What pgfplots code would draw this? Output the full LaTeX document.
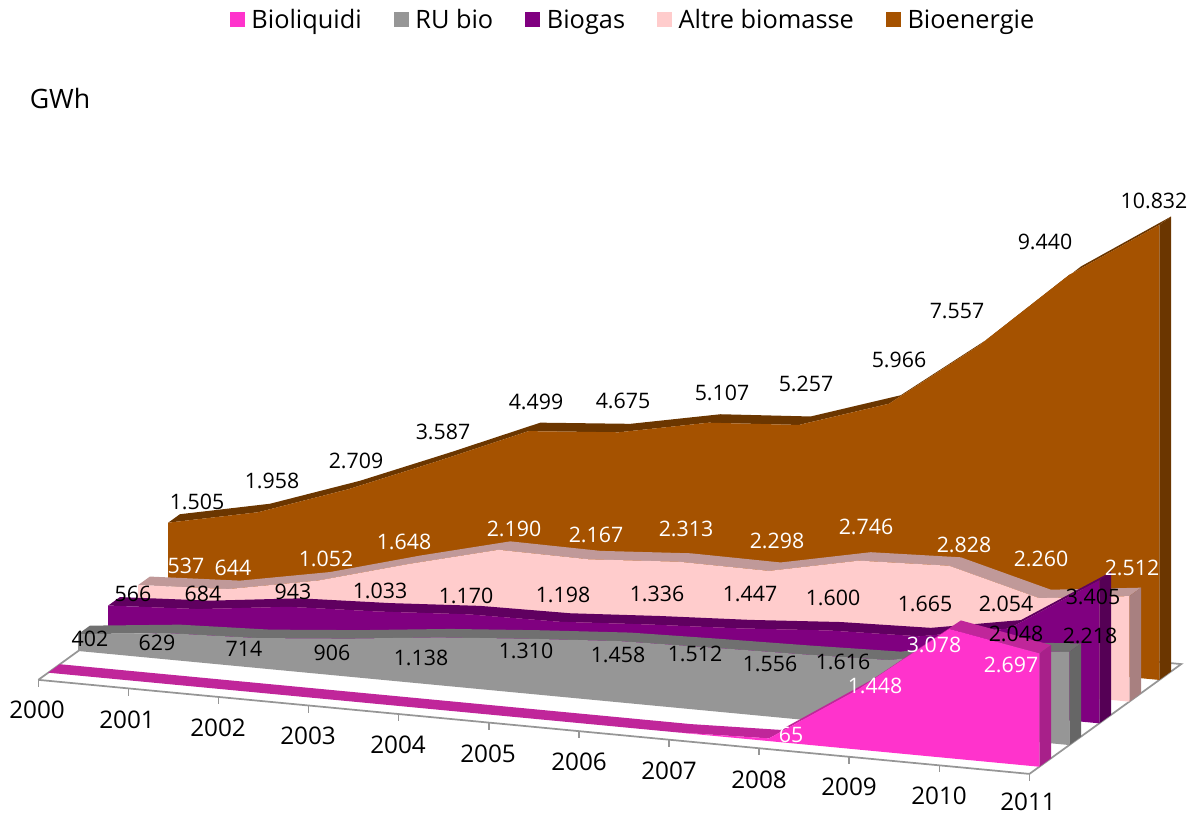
\documentclass[border=0pt]{standalone}
\usepackage{fontspec}
\setmainfont{Open Sans}
\usepackage{pgfplots}
\pgfplotsset{compat=1.18}
\definecolor{cPink}{HTML}{FF33CC}\definecolor{cPinkT}{HTML}{C0269A}\definecolor{cPinkS}{HTML}{A8208A}
\definecolor{cGrey}{HTML}{969696}\definecolor{cGreyT}{HTML}{707070}\definecolor{cGreyS}{HTML}{666666}
\definecolor{cPurp}{HTML}{800080}\definecolor{cPurpT}{HTML}{600060}\definecolor{cPurpS}{HTML}{550055}
\definecolor{cLight}{HTML}{FFCCCC}\definecolor{cLightT}{HTML}{C09999}\definecolor{cLightS}{HTML}{A88080}
\definecolor{cBrown}{HTML}{A55200}\definecolor{cBrownT}{HTML}{6B3600}\definecolor{cBrownS}{HTML}{6B3600}
\newcommand\PX[2]{([shift={({(#1-48.2)*0.75pt},{(672.7-#2)*0.75pt})}]O)}
\begin{document}
\begin{tikzpicture}
\begin{axis}[
  x={(67.575pt,-6.4125pt)}, y={(22.5pt,16.275pt)}, z={(0pt,0.0315pt)},
  xmin=-1, xmax=12, ymin=-1, ymax=6, zmin=-500, zmax=17000,
  axis lines=none, clip=false,
  legend columns=5,
  legend cell align=left,
  legend image code/.code={\path[fill,#1,draw=none] (0pt,-5.6pt) rectangle (11.2pt,5.6pt);},
  legend style={at={(axis cs:6.48,0,16862)},anchor=center,draw=none,fill=none,inner sep=0pt,
    font=\fontsize{19}{22}\selectfont,
    /tikz/every even column/.append style={column sep=24pt},
    nodes={inner sep=0pt,outer sep=0pt},
    /tikz/column 2/.append style={column sep=24pt}},
]
\addlegendimage{fill=cPink}\addlegendentry{\hspace{5pt}Bioliquidi}
\addlegendimage{fill=cGrey}\addlegendentry{\hspace{5pt}RU bio}
\addlegendimage{fill=cPurp}\addlegendentry{\hspace{5pt}Biogas}
\addlegendimage{fill=cLight}\addlegendentry{\hspace{5pt}Altre biomasse}
\addlegendimage{fill=cBrown}\addlegendentry{\hspace{5pt}Bioenergie}
% floor
\addplot3[fill=white,draw=cGrey,line width=1.3pt,forget plot] coordinates {(0,-0.33,0) (11,-0.33,0) (11,4.73,0) (0,4.73,0) (0,-0.33,0)};
\pgfplotsinvokeforeach{0,...,11}{\addplot3[draw=cGrey,line width=1.1pt,forget plot] coordinates {(#1,-0.33,0) (#1,-0.33,-170)};}
% Bioenergie
\addplot3[fill=cBrownT,draw=none,forget plot] coordinates {(0,4,1505)(1,4,1958)(2,4,2709)(3,4,3587)(4,4,4499)(5,4,4675)(6,4,5107)(7,4,5257)(8,4,5966)(9,4,7557)(10,4,9440)(11,4,10832)(11,4.39,10832)(10,4.39,9440)(9,4.39,7557)(8,4.39,5966)(7,4.39,5257)(6,4.39,5107)(5,4.39,4675)(4,4.39,4499)(3,4.39,3587)(2,4.39,2709)(1,4.39,1958)(0,4.39,1505)(0,4,1505)};
\addplot3[fill=cBrownS,draw=none,forget plot] coordinates {(11,4,0)(11,4.39,0)(11,4.39,10832)(11,4,10832)(11,4,0)};
\addplot3[fill=cBrown,draw=none,forget plot] coordinates {(0,4,0)(0,4,1505)(1,4,1958)(2,4,2709)(3,4,3587)(4,4,4499)(5,4,4675)(6,4,5107)(7,4,5257)(8,4,5966)(9,4,7557)(10,4,9440)(11,4,10832)(11,4,0)(0,4,0)};
% Altre biomasse
\addplot3[fill=cLightT,draw=none,forget plot] coordinates {(0,3,537)(1,3,644)(2,3,1052)(3,3,1648)(4,3,2190)(5,3,2167)(6,3,2313)(7,3,2298)(8,3,2746)(9,3,2828)(10,3,2260)(11,3,2512)(11,3.39,2512)(10,3.39,2260)(9,3.39,2828)(8,3.39,2746)(7,3.39,2298)(6,3.39,2313)(5,3.39,2167)(4,3.39,2190)(3,3.39,1648)(2,3.39,1052)(1,3.39,644)(0,3.39,537)(0,3,537)};
\addplot3[fill=cLightS,draw=none,forget plot] coordinates {(11,3,0)(11,3.39,0)(11,3.39,2512)(11,3,2512)(11,3,0)};
\addplot3[fill=cLight,draw=none,forget plot] coordinates {(0,3,0)(0,3,537)(1,3,644)(2,3,1052)(3,3,1648)(4,3,2190)(5,3,2167)(6,3,2313)(7,3,2298)(8,3,2746)(9,3,2828)(10,3,2260)(11,3,2512)(11,3,0)(0,3,0)};
% Biogas
\addplot3[fill=cPurpT,draw=none,forget plot] coordinates {(0,2,566)(1,2,684)(2,2,943)(3,2,1033)(4,2,1170)(5,2,1198)(6,2,1336)(7,2,1447)(8,2,1600)(9,2,1665)(10,2,2054)(11,2,3405)(11,2.39,3405)(10,2.39,2054)(9,2.39,1665)(8,2.39,1600)(7,2.39,1447)(6,2.39,1336)(5,2.39,1198)(4,2.39,1170)(3,2.39,1033)(2,2.39,943)(1,2.39,684)(0,2.39,566)(0,2,566)};
\addplot3[fill=cPurpS,draw=none,forget plot] coordinates {(11,2,0)(11,2.39,0)(11,2.39,3405)(11,2,3405)(11,2,0)};
\addplot3[fill=cPurp,draw=none,forget plot] coordinates {(0,2,0)(0,2,566)(1,2,684)(2,2,943)(3,2,1033)(4,2,1170)(5,2,1198)(6,2,1336)(7,2,1447)(8,2,1600)(9,2,1665)(10,2,2054)(11,2,3405)(11,2,0)(0,2,0)};
% RU bio
\addplot3[fill=cGreyT,draw=none,forget plot] coordinates {(0,1,402)(1,1,629)(2,1,714)(3,1,906)(4,1,1138)(5,1,1310)(6,1,1458)(7,1,1512)(8,1,1556)(9,1,1616)(10,1,2048)(11,1,2218)(11,1.39,2218)(10,1.39,2048)(9,1.39,1616)(8,1.39,1556)(7,1.39,1512)(6,1.39,1458)(5,1.39,1310)(4,1.39,1138)(3,1.39,906)(2,1.39,714)(1,1.39,629)(0,1.39,402)(0,1,402)};
\addplot3[fill=cGreyS,draw=none,forget plot] coordinates {(11,1,0)(11,1.39,0)(11,1.39,2218)(11,1,2218)(11,1,0)};
\addplot3[fill=cGrey,draw=none,forget plot] coordinates {(0,1,0)(0,1,402)(1,1,629)(2,1,714)(3,1,906)(4,1,1138)(5,1,1310)(6,1,1458)(7,1,1512)(8,1,1556)(9,1,1616)(10,1,2048)(11,1,2218)(11,1,0)(0,1,0)};
% Bioliquidi
\addplot3[fill=cPinkT,draw=none,forget plot] coordinates {(0,0,0)(1,0,0)(2,0,0)(3,0,0)(4,0,0)(5,0,0)(6,0,0)(7,0,0)(8,0,65)(9,0,1448)(10,0,3078)(11,0,2697)(11,0.39,2697)(10,0.39,3078)(9,0.39,1448)(8,0.39,65)(7,0.39,0)(6,0.39,0)(5,0.39,0)(4,0.39,0)(3,0.39,0)(2,0.39,0)(1,0.39,0)(0,0.39,0)(0,0,0)};
\addplot3[fill=cPinkS,draw=none,forget plot] coordinates {(11,0,0)(11,0.39,0)(11,0.39,2697)(11,0,2697)(11,0,0)};
\addplot3[fill=cPink,draw=none,forget plot] coordinates {(7,0,0)(8,0,65)(9,0,1448)(10,0,3078)(11,0,2697)(11,0,0)(7,0,0)};
\coordinate (O) at (axis cs:0,0,0);
\end{axis}
\pgfresetboundingbox
\path[use as bounding box] \PX{0}{0} rectangle \PX{1195}{816};
\tikzset{lab/.style={inner sep=0pt,font=\fontsize{16}{18}\selectfont},big/.style={inner sep=0pt,font=\fontsize{18.2}{20}\selectfont}}
% year labels
\foreach \x/\y/\t in {37/710/2000,127/720/2001,218/728/2002,308/736/2003,398/745/2004,488/754/2005,579/762/2006,669/771/2007,759/780/2008,849/787/2009,939/796/2010,1028/802/2011}
  \node[big] at \PX{\x}{\y} {\t};
\node[inner sep=0pt,font=\fontsize{20}{22}\selectfont] at \PX{60}{99} {GWh};
% Bioenergie labels
\foreach \x/\y/\t in {197/502/1.505,272/481/1.958,356/461/2.709,443/432/3.587,536/402/4.499,623/401/4.675,722/393/5.107,806/384/5.257,899/360/5.966,957/311/7.557,1045/242/9.440,1154/201/10.832}
  \node[lab] at \PX{\x}{\y} {\t};
% Altre biomasse labels
\foreach \x/\y/\t in {186/566/537,233/568/644,326/559/1.052,404/542/1.648,514/529/2.190,596/535/2.167,686/529/2.313,777/541/2.298,866/527/2.746,964/545/2.828,1041/559/2.260,1132/568/2.512}
  \node[lab,text=white] at \PX{\x}{\y} {\t};
% Biogas labels
\foreach \x/\y/\t in {133/594/566,203/594/684,293/592/943,380/591/1.033,466/596/1.170,563/595/1.198,657/594/1.336,750/594/1.447,833/598/1.600,925/604/1.665,1006/604/2.054,1093/597/3.405}
  \node[lab] at \PX{\x}{\y} {\t};
% RU bio labels
\foreach \x/\y/\t in {90/639/402,157/643/629,244/649/714,332/653/906,421/658/1.138,526/651/1.310,618/655/1.458,695/654/1.512,770/664/1.556,843/662/1.616,1016/634/2.048,1090/636/2.218}
  \node[lab] at \PX{\x}{\y} {\t};
% Bioliquidi labels
\foreach \x/\y/\t in {791/735/65,875/686/1.448,934/645/3.078,1011/665/2.697}
  \node[lab,text=white] at \PX{\x}{\y} {\t};
\end{tikzpicture}
\end{document}
